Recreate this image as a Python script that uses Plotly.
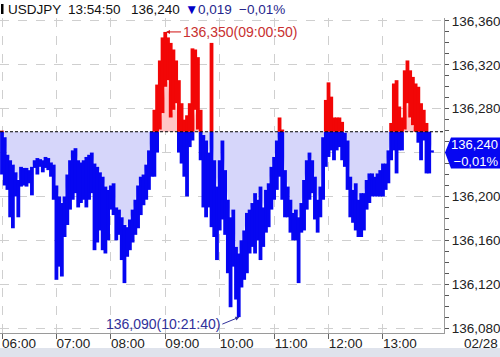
import plotly.graph_objects as go
import numpy as np
import pandas as pd

# ---------------- data ----------------
symbol = "USDJPY"
last_time = "13:54:50"
last_price = 136.240
change_abs = "0,019"
change_pct = "−0,01%"
date_label = "02/28"
base_price = 136.259          # previous close (dashed reference line)
high_price, high_time = 136.350, "09:00:50"
low_price, low_time = 136.090, "10:21:40"

day = "2023-02-28"
start_time = "06:00"
step = "3min"

# per-3-minute high / low of the tick line
hi = [
    136.260, 136.254, 136.238, 136.233, 136.229, 136.222, 136.215, 136.227, 136.226, 136.226,
    136.224, 136.227, 136.233, 136.235, 136.234, 136.233, 136.236, 136.235, 136.231, 136.229,
    136.210, 136.200, 136.194, 136.200, 136.220, 136.233, 136.242, 136.244, 136.233, 136.231,
    136.233, 136.236, 136.238, 136.240, 136.230, 136.227, 136.222, 136.218, 136.209, 136.206,
    136.210, 136.212, 136.190, 136.188, 136.181, 136.174, 136.172, 136.179, 136.188, 136.197,
    136.210, 136.218, 136.220, 136.229, 136.242, 136.259, 136.279, 136.302, 136.324, 136.345,
    136.350, 136.345, 136.340, 136.334, 136.324, 136.306, 136.285, 136.270, 136.274, 136.285,
    136.335, 136.334, 136.327, 136.279, 136.256, 136.251, 136.240, 136.340, 136.233, 136.209,
    136.233, 136.251, 136.224, 136.197, 136.181, 136.188, 136.154, 136.148, 136.160, 136.169,
    136.185, 136.188, 136.194, 136.203, 136.197, 136.209, 136.190, 136.206, 136.212, 136.227,
    136.236, 136.251, 136.272, 136.261, 136.224, 136.209, 136.197, 136.185, 136.188, 136.181,
    136.194, 136.215, 136.233, 136.240, 136.233, 136.218, 136.197, 136.209, 136.254, 136.288,
    136.304, 136.291, 136.272, 136.272, 136.272, 136.268, 136.258, 136.251, 136.218, 136.206,
    136.212, 136.197, 136.203, 136.203, 136.215, 136.221, 136.221, 136.218, 136.221, 136.224,
    136.230, 136.230, 136.242, 136.267, 136.303, 136.306, 136.282, 136.272, 136.315, 136.324,
    136.315, 136.309, 136.303, 136.300, 136.285, 136.279, 136.267, 136.259, 136.242,
]
lo = [
    136.220, 136.210, 136.206, 136.181, 136.171, 136.200, 136.181, 136.209, 136.210, 136.209,
    136.212, 136.201, 136.226, 136.220, 136.227, 136.222, 136.226, 136.224, 136.218, 136.197,
    136.124, 136.136, 136.127, 136.163, 136.174, 136.188, 136.197, 136.203, 136.190, 136.194,
    136.197, 136.190, 136.197, 136.203, 136.151, 136.158, 136.169, 136.151, 136.148, 136.160,
    136.188, 136.183, 136.160, 136.165, 136.142, 136.121, 136.145, 136.151, 136.158, 136.165,
    136.171, 136.183, 136.192, 136.197, 136.206, 136.218, 136.218, 136.240, 136.261, 136.276,
    136.300, 136.306, 136.272, 136.279, 136.285, 136.240, 136.230, 136.218, 136.200, 136.245,
    136.251, 136.279, 136.261, 136.233, 136.190, 136.181, 136.190, 136.172, 136.163, 136.142,
    136.169, 136.179, 136.165, 136.130, 136.099, 136.136, 136.106, 136.090, 136.117, 136.124,
    136.130, 136.148, 136.154, 136.148, 136.160, 136.142, 136.154, 136.167, 136.172, 136.188,
    136.197, 136.206, 136.218, 136.197, 136.181, 136.181, 136.167, 136.160, 136.160, 136.121,
    136.167, 136.169, 136.188, 136.197, 136.203, 136.179, 136.167, 136.181, 136.197, 136.227,
    136.236, 136.242, 136.233, 136.242, 136.245, 136.233, 136.227, 136.206, 136.181, 136.176,
    136.169, 136.163, 136.163, 136.169, 136.188, 136.194, 136.200, 136.200, 136.200, 136.200,
    136.200, 136.206, 136.212, 136.233, 136.242, 136.221, 136.242, 136.242, 136.261, 136.285,
    136.272, 136.265, 136.259, 136.249, 136.233, 136.251, 136.221, 136.221, 136.240,
]

x_tick_labels = ["06:00", "07:00", "08:00", "09:00", "10:00", "11:00", "12:00", "13:00"]
y_ticks = [136.080, 136.120, 136.160, 136.200, 136.240, 136.280, 136.320, 136.360]
x_range = ["05:57:48", "14:07:18"]
y_range = [136.0755, 136.3627]

# ---------------- derived ----------------
def fmt(v):
    return f"{v:.3f}".replace(".", ",")

times = pd.date_range(f"{day} {start_time}", periods=len(hi), freq=step)
hi_a = np.array(hi)
lo_a = np.array(lo)

BLUE = "#0606f2"
RED = "#f20606"
FONT = "Liberation Sans"

fig = go.Figure()

# fills between baseline and the price
blue_edge = np.minimum(hi_a, base_price)
red_edge = np.maximum(lo_a, base_price)
base_line = [base_price] * len(times)
for edge, fc in ((blue_edge, "#d6d6fa"), (red_edge, "#ffc6c6")):
    fig.add_trace(go.Scatter(x=times, y=base_line, mode="lines", line=dict(width=0),
                             hoverinfo="skip", showlegend=False))
    fig.add_trace(go.Scatter(x=times, y=edge, mode="lines", line=dict(width=0),
                             fill="tonexty", fillcolor=fc, hoverinfo="skip", showlegend=False))

# high/low range bars, blue below baseline, red above
bx, by, rx, ry = [], [], [], []
for t, l, h in zip(times, lo, hi):
    if l < base_price:
        bx += [t, t, None]
        by += [l, min(h, base_price), None]
    if h > base_price:
        rx += [t, t, None]
        ry += [max(l, base_price), h, None]
fig.add_trace(go.Scatter(x=bx, y=by, mode="lines", line=dict(color=BLUE, width=3.8),
                         hoverinfo="skip", showlegend=False))
fig.add_trace(go.Scatter(x=rx, y=ry, mode="lines", line=dict(color=RED, width=3.8),
                         hoverinfo="skip", showlegend=False))

# baseline
fig.add_shape(type="line", xref="paper", x0=0, x1=1, yref="y", y0=base_price, y1=base_price,
              line=dict(color="#000000", width=1, dash="3px,2px"))

# bottom band
fig.add_shape(type="rect", xref="paper", yref="paper", x0=-0.01, x1=1.2,
              y0=-0.0762, y1=-0.0476, fillcolor="#dfe3ec", line=dict(width=0))

# header marker
fig.add_shape(type="rect", xref="paper", yref="paper", x0=1 / 444, x1=3.5 / 444,
              y0=1 + 4 / 315, y1=1 + 14 / 315, fillcolor="#000000", line=dict(width=0))

# current price box on the right axis
fig.add_shape(type="path", xref="paper", yref="y", xsizemode="pixel", ysizemode="pixel",
              xanchor=1, yanchor=last_price,
              path="M 1,0 L 7,15 L 56,15 L 56,-16 L 7,-16 Z",
              fillcolor=BLUE, line=dict(width=0))

ann = []
hy = 1 + 8.5 / 315
for txt, px, col in ((symbol, 6, "#111111"), (last_time, 66, "#111111"),
                     (fmt(last_price), 129, "#111111"), ("▼", 183, "#0000c8"),
                     (change_abs, 196, "#26268c"), (change_pct, 237, "#26268c")):
    ann.append(dict(text=txt, xref="paper", yref="paper", x=px / 444, y=hy,
                    xanchor="left", yanchor="middle", showarrow=False,
                    font=dict(family=FONT, size=13.5, color=col)))

ann.append(dict(text=f"{fmt(last_price)}<br>{change_pct}", xref="paper", yref="y", x=1,
                y=last_price, xanchor="left", yanchor="middle", xshift=5, showarrow=False,
                align="right", font=dict(family=FONT, size=13, color="white")))

ann.append(dict(text=f"{fmt(high_price)}({high_time})", x=pd.Timestamp(f"{day} {high_time}"),
                y=high_price, xref="x", yref="y", showarrow=True, ax=15, ay=0,
                xanchor="left", yanchor="middle", arrowhead=2, arrowsize=0.8, arrowwidth=1,
                arrowcolor="#d01010", font=dict(family=FONT, size=14, color="#c83030")))
ann.append(dict(text=f"{fmt(low_price)}({low_time})", x=pd.Timestamp(f"{day} {low_time}"),
                y=low_price, xref="x", yref="y", showarrow=True, ax=-17, ay=7,
                xanchor="right", yanchor="middle", arrowhead=2, arrowsize=0.8, arrowwidth=1,
                arrowcolor="#30309a", font=dict(family=FONT, size=14, color="#30309a")))

ann.append(dict(text=date_label, xref="paper", yref="paper", x=1, y=0, xanchor="left",
                yanchor="middle", xshift=18, yshift=-10, showarrow=False,
                font=dict(family=FONT, size=13.5, color="#222222")))

# y tick labels: the current-price box covers the 136,240 label
y_tick_text = ["" if abs(v - last_price) < 1e-9 else fmt(v) for v in y_ticks]

fig.update_layout(
    width=500, height=357,
    margin=dict(l=0, r=56, t=18, b=24),
    paper_bgcolor="white", plot_bgcolor="white",
    showlegend=False,
    font=dict(family=FONT, size=13.5, color="#222222"),
    annotations=ann,
    xaxis=dict(
        range=[f"{day} {x_range[0]}", f"{day} {x_range[1]}"],
        tickvals=[pd.Timestamp(f"{day} {h}") for h in x_tick_labels],
        ticktext=x_tick_labels,
        ticks="outside", ticklen=5, tickcolor="#666666",
        ticklabelshift=17, ticklabelstandoff=-7,
        showline=True, linecolor="#9a9a9a", linewidth=1,
        showgrid=True, gridcolor="#cfcfcf", griddash="dash", gridwidth=1,
        zeroline=False, tickfont=dict(family=FONT, size=13.5, color="#222222"),
    ),
    yaxis=dict(
        side="right", range=y_range,
        tickvals=y_ticks, ticktext=y_tick_text,
        ticks="outside", ticklen=4, tickcolor="#555555",
        minor=dict(dtick=0.01, tick0=136.08, ticks="outside", ticklen=4, tickcolor="#555555",
                   showgrid=False),
        showline=True, linecolor="#9a9a9a", linewidth=1,
        showgrid=True, gridcolor="#cfcfcf", griddash="dash", gridwidth=1,
        zeroline=False, tickfont=dict(family=FONT, size=13.5, color="#222222"),
    ),
)

fig.write_html("out.html", config={"displayModeBar": False})
